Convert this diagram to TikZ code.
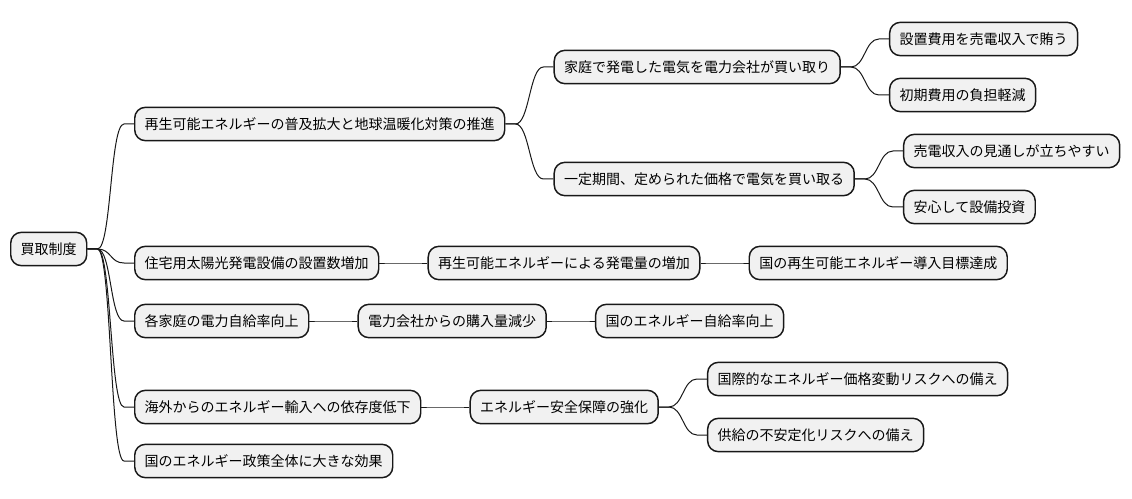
\documentclass[tikz,border=0pt]{standalone}
\usepackage{fontspec}
\setmainfont{Noto Sans CJK JP}
\usetikzlibrary{positioning}
\definecolor{boxgray}{HTML}{F1F1F1}
\definecolor{linegray}{HTML}{181818}

\begin{document}
\begin{tikzpicture}[x=0.75pt,y=-0.75pt,
    box/.style={draw=linegray, fill=boxgray, line width=1.1pt, rounded corners=8pt,
      anchor=west, inner xsep=7.5pt, minimum height=25pt,
      font=\fontsize{10.5pt}{12pt}\selectfont},
    link/.style={draw=linegray, line width=0.75pt}]
  \useasboundingbox (0,0) rectangle (1132,499);

  \node[box] (root) at (10,249) {買取制度};

  \node[box] (A) at (134,124) {再生可能エネルギーの普及拡大と地球温暖化対策の推進};
  \node[box] (B) at (134,263) {住宅用太陽光発電設備の設置数増加};
  \node[box] (C) at (134,321) {各家庭の電力自給率向上};
  \node[box] (D) at (134,407) {海外からのエネルギー輸入への依存度低下};
  \node[box] (E) at (134,461) {国のエネルギー政策全体に大きな効果};

  \node[box, xshift=36pt] (A1) at (A.east |- 0,67) {家庭で発電した電気を電力会社が買い取り};
  \node[box, xshift=36pt] (A2) at (A.east |- 0,179) {一定期間、定められた価格で電気を買い取る};
  \node[box, xshift=36pt] (A1a) at (A1.east |- 0,39) {設置費用を売電収入で賄う};
  \node[box, xshift=36pt] (A1b) at (A1.east |- 0,95) {初期費用の負担軽減};
  \node[box, xshift=36pt] (A2a) at (A2.east |- 0,151) {売電収入の見通しが立ちやすい};
  \node[box, xshift=36pt] (A2b) at (A2.east |- 0,207) {安心して設備投資};

  \node[box, right=36pt of B] (B2) {再生可能エネルギーによる発電量の増加};
  \node[box, right=36pt of B2] (B3) {国の再生可能エネルギー導入目標達成};

  \node[box, right=36pt of C] (C2) {電力会社からの購入量減少};
  \node[box, right=36pt of C2] (C3) {国のエネルギー自給率向上};

  \node[box, right=36pt of D] (D2) {エネルギー安全保障の強化};
  \node[box, xshift=36pt] (D3a) at (D2.east |- 0,379) {国際的なエネルギー価格変動リスクへの備え};
  \node[box, xshift=36pt] (D3b) at (D2.east |- 0,435) {供給の不安定化リスクへの備え};

  % branches
  \foreach \p/\c in {root/A, root/B, root/C, root/D, root/E,
      A/A1, A/A2, A1/A1a, A1/A1b, A2/A2a, A2/A2b,
      B/B2, B2/B3, C/C2, C2/C3, D/D2, D2/D3a, D2/D3b} {
    \draw[link] (\p.east) -- ++(10,0) .. controls +(14,0) and +(-14,0)
      .. ([xshift=-7.5pt]\c.west) -- (\c.west);
  }
\end{tikzpicture}
\end{document}
